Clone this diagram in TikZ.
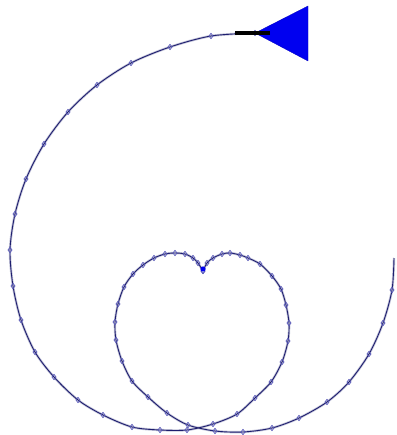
\documentclass[tikz,border=0pt]{standalone}
\usepackage{xcolor}
\usepackage{tikz}
\usetikzlibrary{plotmarks}
\definecolor{PathNavy}{HTML}{1E1E6E}
\definecolor{PathHalo}{HTML}{A9ABC8}
\definecolor{MarkBlue}{HTML}{5A5AB8}
\definecolor{HeadBlue}{HTML}{0000F0}
\tikzset{
  halo/.style={line width=2.4pt,draw=PathHalo!70,line join=round},
  track/.style={line width=0.9pt,draw=PathNavy,line join=round,
    mark=diamond,mark size=2.7pt,mark options={draw=MarkBlue,line width=0.7pt,fill=none}},
  headbar/.style={line width=3.4pt,draw=black},
  headtri/.style={fill=HeadBlue,draw=HeadBlue!80!black,line width=0.3pt}
}
\begin{document}
\begin{tikzpicture}[x=1pt,y=-1pt]
\useasboundingbox (0,0) rectangle (396,435);
% outer sweep and right half of the heart
\def\legone{(255,33) (211,36) (170,47) (131,63) (97,85) (68,112) (44,144) (26,179)
  (15,214) (10,250) (13,286) (21,320) (35,352) (54,377) (78,400) (103,415) (132,427)
  (160,430) (187,430) (213,424) (237,414) (255,398) (271,382) (282,362) (288,341)
  (289,323) (286,305) (281,289) (272,276) (260,264) (248,258) (240,255) (230,253)
  (222,254) (213,258) (207,263) (203,271)}
% left half of the heart and the closing sweep
\def\legtwo{(203,271) (198,263) (193,258) (185,254) (175,253) (165,254) (154,258)
  (143,265) (133,274) (124,287) (118,304) (115,322) (116,340) (122,361) (132,381)
  (148,397) (167,413) (188,425) (215,431) (243,432) (272,428) (299,418) (327,402)
  (349,382) (369,354) (383,323) (392,290) (394,258)}
\draw[halo] plot[smooth] coordinates {\legone};
\draw[halo] plot[smooth] coordinates {\legtwo};
\draw[track] plot[smooth] coordinates {\legone};
\draw[track,mark indices={1,...,27}] plot[smooth] coordinates {\legtwo};

\coordinate (tip) at (255,33);
\coordinate (barL) at (235,33);
\coordinate (barR) at (270,33);
\fill[headtri] (tip) -- (308,6) -- (308,61) -- cycle;
\fill[HeadBlue] (203,269) circle (2.6pt);
\draw[headbar] (barL) -- (barR);
\end{tikzpicture}
\end{document}
